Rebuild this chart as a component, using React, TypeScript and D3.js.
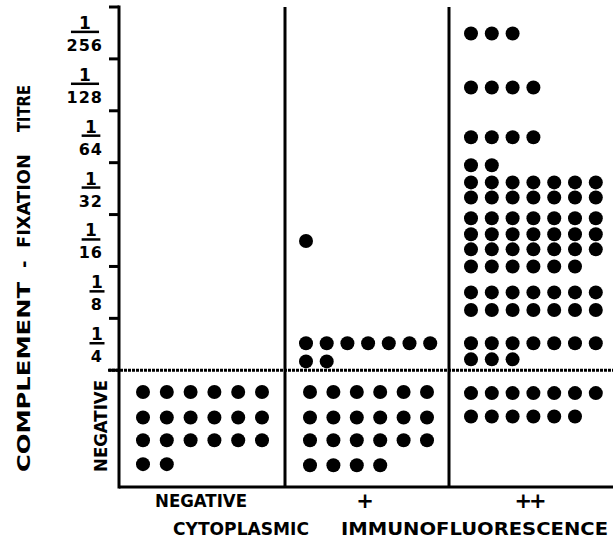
import React from 'react';
import * as d3 from 'd3';

// groups along the x axis (cytoplasmic immunofluorescence)
const groups = ['NEGATIVE', '+', '++'];
const groupLabels = ['NEGATIVE', '+', '++'];

// complement-fixation titre bands, bottom to top
const titres = ['1/4', '1/8', '1/16', '1/32', '1/64', '1/128', '1/256'];

// rows of dots: titre band, place inside the band (0 = bottom tick, 1 = top tick), count
// 'NEG' rows sit below the 1/4 line, at negative places
const negativeRows = [
    { titre: 'NEG', at: -0.42, n: 6 },
    { titre: 'NEG', at: -0.91, n: 6 },
    { titre: 'NEG', at: -1.35, n: 6 },
    { titre: 'NEG', at: -1.81, n: 2 }
];
const plusRows = [
    { titre: '1/16', at: 0.49, n: 1 },
    { titre: '1/4', at: 0.52, n: 7 },
    { titre: '1/4', at: 0.17, n: 2 },
    { titre: 'NEG', at: -0.42, n: 6 },
    { titre: 'NEG', at: -0.91, n: 6 },
    { titre: 'NEG', at: -1.35, n: 6 },
    { titre: 'NEG', at: -1.83, n: 4 }
];
const plusPlusRows = [
    { titre: '1/256', at: 0.49, n: 3 },
    { titre: '1/128', at: 0.45, n: 4 },
    { titre: '1/64', at: 0.49, n: 4 },
    { titre: '1/32', at: 0.95, n: 2 },
    { titre: '1/32', at: 0.62, n: 7 },
    { titre: '1/32', at: 0.33, n: 7 },
    { titre: '1/16', at: 0.93, n: 7 },
    { titre: '1/16', at: 0.62, n: 7 },
    { titre: '1/16', at: 0.33, n: 7 },
    { titre: '1/16', at: 0.0, n: 6 },
    { titre: '1/8', at: 0.5, n: 7 },
    { titre: '1/8', at: 0.16, n: 7 },
    { titre: '1/4', at: 0.52, n: 7 },
    { titre: '1/4', at: 0.21, n: 3 },
    { titre: 'NEG', at: -0.44, n: 7 },
    { titre: 'NEG', at: -0.89, n: 6 }
];
const rowsByGroup = [negativeRows, plusRows, plusPlusRows];

const config = {
    width: 613,
    height: 540,
    axisX: 119,
    top: 7,
    bottom: 487,
    right: 613,
    dotRadius: 7,
    font: 'DejaVu Sans, Verdana, sans-serif',
    // dot layout inside each group: [pad, step] above and below the 1/4 line
    dotLayout: [
        { titre: [22, 23.8], neg: [22, 23.8] },
        { titre: [21, 20.7], neg: [25, 23.4] },
        { titre: [22, 20.8], neg: [22, 20.8] }
    ]
};

function levelOf(titre) {
    return titre === 'NEG' ? 0 : titres.indexOf(titre);
}

export default function App() {
    const { width, height, axisX, top, bottom, right, dotRadius, font, dotLayout } = config;

    const x = d3.scaleBand().domain(groups).range([axisX + 2, right]);
    const y = d3.scaleLinear().domain([-2.25, titres.length]).range([bottom, top]);

    const dots = [];
    rowsByGroup.forEach((rows, gi) => {
        const g = groups[gi];
        rows.forEach((row, ri) => {
            const [pad, step] = row.titre === 'NEG' ? dotLayout[gi].neg : dotLayout[gi].titre;
            d3.range(row.n).forEach(i => {
                dots.push({
                    key: `${gi}-${ri}-${i}`,
                    cx: x(g) + pad + i * step,
                    cy: y(levelOf(row.titre) + row.at)
                });
            });
        });
    });

    const tickLevels = d3.range(titres.length + 1);

    return (
        <svg width={width} height={height} style={{ position: 'absolute', left: 0, top: 0, background: '#fff' }}
             fontFamily={font} fontWeight="bold" fill="#000">
            {/* y axis */}
            <line x1={axisX} x2={axisX} y1={top - 1.5} y2={bottom + 1.5} stroke="#000" strokeWidth={3} />
            {tickLevels.map(l => (
                <line key={l} x1={axisX - 10} x2={axisX} y1={y(l)} y2={y(l)} stroke="#000" strokeWidth={3} />
            ))}
            {/* x axis */}
            <line x1={axisX} x2={right} y1={bottom} y2={bottom} stroke="#000" strokeWidth={3} />
            {/* group dividers */}
            {groups.slice(1).map(g => (
                <line key={g} x1={x(g)} x2={x(g)} y1={top} y2={bottom} stroke="#000" strokeWidth={3} />
            ))}
            {/* dotted 1/4 line */}
            <line x1={axisX - 11} x2={right} y1={y(0)} y2={y(0)} stroke="#000" strokeWidth={3}
                  strokeDasharray="3 1" />

            {/* titre labels */}
            {titres.map((t, i) => {
                const denom = t.split('/')[1];
                const yt = y(i);
                const w = denom.length * 12;
                const cx = 103 - w / 2;
                const bw = Math.max(15, w * 0.78);
                return (
                    <g key={t}>
                        <text x={cx} y={yt - 30} fontSize={17} textAnchor="middle">1</text>
                        <line x1={cx - bw / 2} x2={cx + bw / 2} y1={yt - 27} y2={yt - 27} stroke="#000" strokeWidth={2.5} />
                        <text x={103} y={yt - 8} fontSize={16} textAnchor="end" letterSpacing={1}>{denom}</text>
                    </g>
                );
            })}

            {/* left titles */}
            <text transform="translate(107,472) rotate(-90)" fontSize={17} textLength={92} lengthAdjust="spacingAndGlyphs">NEGATIVE</text>
            <text transform="translate(30,472) rotate(-90)" fontSize={18} textLength={190} lengthAdjust="spacingAndGlyphs">COMPLEMENT</text>
            <text transform="translate(30,268) rotate(-90)" fontSize={18}>-</text>
            <text transform="translate(30,248) rotate(-90)" fontSize={18} textLength={94} lengthAdjust="spacingAndGlyphs">FIXATION</text>
            <text transform="translate(30,132) rotate(-90)" fontSize={18} textLength={47} lengthAdjust="spacingAndGlyphs">TITRE</text>

            {/* group labels */}
            {groups.map((g, i) => (
                <text key={g} x={x(g) + x.bandwidth() / 2 - 2} y={i === 0 ? 507 : 508} fontSize={i === 0 ? 17 : 21}
                      textAnchor="middle" letterSpacing={i === 2 ? -3 : 0}
                      textLength={i === 0 ? 92 : undefined} lengthAdjust="spacingAndGlyphs">{groupLabels[i]}</text>
            ))}
            <text x={173} y={535} fontSize={17} textLength={136} lengthAdjust="spacingAndGlyphs">CYTOPLASMIC</text>
            <text x={341} y={535} fontSize={17} textLength={267} lengthAdjust="spacingAndGlyphs">IMMUNOFLUORESCENCE</text>

            {/* dots */}
            {dots.map(d => (
                <circle key={d.key} cx={d.cx} cy={d.cy} r={dotRadius} fill="#000" />
            ))}
        </svg>
    );
}
